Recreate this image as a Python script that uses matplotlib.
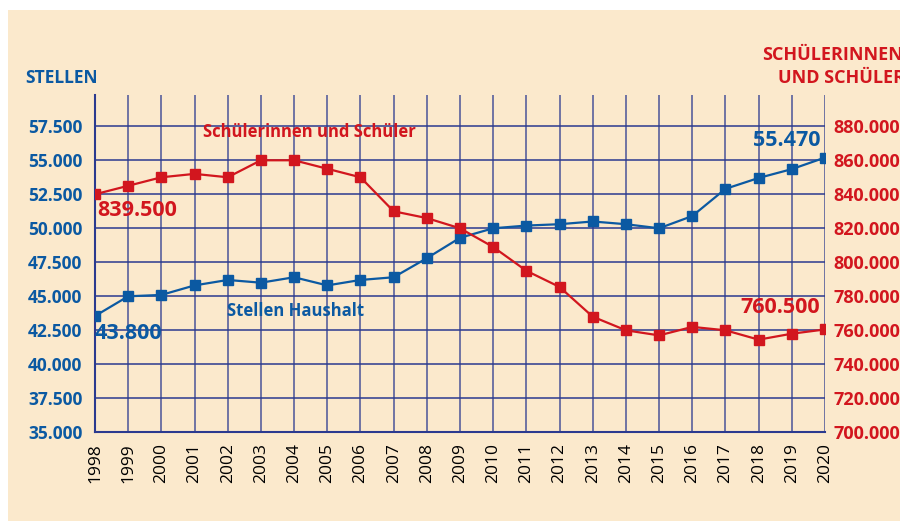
import matplotlib.pyplot as plt
from matplotlib.patches import Rectangle
from matplotlib.ticker import FuncFormatter

years = list(range(1998, 2021))
stellen = [43550, 45000, 45100, 45800, 46200, 46000, 46400, 45800, 46200, 46400,
           47800, 49300, 50000, 50200, 50300, 50500, 50300, 50000, 50900, 52900,
           53700, 54350, 55200]
schueler = [840000, 845000, 850000, 852000, 850000, 860000, 860000, 855000, 850000,
            830000, 826000, 820000, 809000, 795000, 785500, 768000, 760000, 757000,
            762000, 760000, 754500, 758000, 760500]
left_ticks = [35000, 37500, 40000, 42500, 45000, 47500, 50000, 52500, 55000, 57500]
right_ticks = [700000, 720000, 740000, 760000, 780000, 800000, 820000, 840000, 860000, 880000]

BG = "#fbe9cc"
BLUE = "#0b59a2"
RED = "#d2161e"
GRID = "#2b3a8f"
FONT = "Open Sans"

def dotted(v, pos=None):
    return f"{int(v):,}".replace(",", ".")

fig = plt.figure(figsize=(9, 5.21), dpi=100)
fig.patch.set_facecolor("white")
fig.patches.append(Rectangle((8 / 900, 0), 1, 1 - 10 / 521,
                             transform=fig.transFigure, facecolor=BG,
                             edgecolor="none", zorder=-10))

ax = fig.add_axes([95 / 900, 1 - 432.3 / 521, 730 / 900, 337.3 / 521])
ax.patch.set_alpha(0)
ax.set_xlim(1998, 2020)
ax.set_ylim(35000, 59800)

# grid
for y in left_ticks[1:]:
    ax.plot([1998, 2020], [y, y], color=GRID, lw=1.1, zorder=1)
for x in years:
    ax.plot([x, x], [35000, 59800], color=GRID, lw=1.1, alpha=0.85, zorder=1)

for s in ["top", "right"]:
    ax.spines[s].set_visible(False)
for s in ["left", "bottom"]:
    ax.spines[s].set_color(GRID)
    ax.spines[s].set_linewidth(1.5)

ax.plot(years, stellen, color=BLUE, lw=1.6, marker="s", markersize=7.5, zorder=4)

ax.set_xticks(years)
ax.set_xticklabels([str(y) for y in years], rotation=90, fontsize=12.5,
                   family=FONT, color="black")
ax.set_yticks(left_ticks)
ax.yaxis.set_major_formatter(FuncFormatter(dotted))
ax.tick_params(length=0)
ax.tick_params(axis="x", pad=8)
ax.tick_params(axis="y", pad=9)
for t in ax.get_yticklabels():
    t.set_color(BLUE)
    t.set_fontweight("bold")
    t.set_fontsize(12.5)
    t.set_family(FONT)

ax2 = ax.twinx()
ax2.set_ylim(700000, 700000 + 24800 * 8)
for s in ax2.spines.values():
    s.set_visible(False)
ax2.plot(years, schueler, color=RED, lw=1.6, marker="s", markersize=7.5, zorder=4)
ax2.set_yticks(right_ticks)
ax2.yaxis.set_major_formatter(FuncFormatter(dotted))
ax2.tick_params(length=0, pad=6)
for t in ax2.get_yticklabels():
    t.set_color(RED)
    t.set_fontweight("bold")
    t.set_fontsize(13)
    t.set_family(FONT)

lbl = dict(family=FONT, fontweight="bold")
ax.text(2001.25, 57070, "Schülerinnen und Schüler", color=RED, fontsize=12,
        va="center", ha="left", zorder=5, **lbl)
ax.text(2001.98, 43915, "Stellen Haushalt", color=BLUE, fontsize=12,
        va="center", ha="left", zorder=5, **lbl)
ax.text(1998.08, 51340, "839.500", color=RED, fontsize=15.5,
        va="center", ha="left", zorder=5, **lbl)
ax.text(1998.0, 42300, "43.800", color=BLUE, fontsize=15.5,
        va="center", ha="left", zorder=5, **lbl)
ax.text(2019.85, 56485, "55.470", color=BLUE, fontsize=15.5,
        va="center", ha="right", zorder=5, **lbl)
ax.text(2019.85, 44210, "760.500", color=RED, fontsize=15.5,
        va="center", ha="right", zorder=5, **lbl)

fig.text(25 / 900, 1 - 78 / 521, "STELLEN", color=BLUE, fontsize=12.5,
         va="center", ha="left", **lbl)
fig.text(762 / 900, 1 - 55 / 521, "SCHÜLERINNEN", color=RED, fontsize=13,
         va="center", ha="left", **lbl)
fig.text(778 / 900, 1 - 78 / 521, "UND SCHÜLER", color=RED, fontsize=13,
         va="center", ha="left", **lbl)

fig.savefig("out.png", dpi=100, facecolor=fig.get_facecolor())
